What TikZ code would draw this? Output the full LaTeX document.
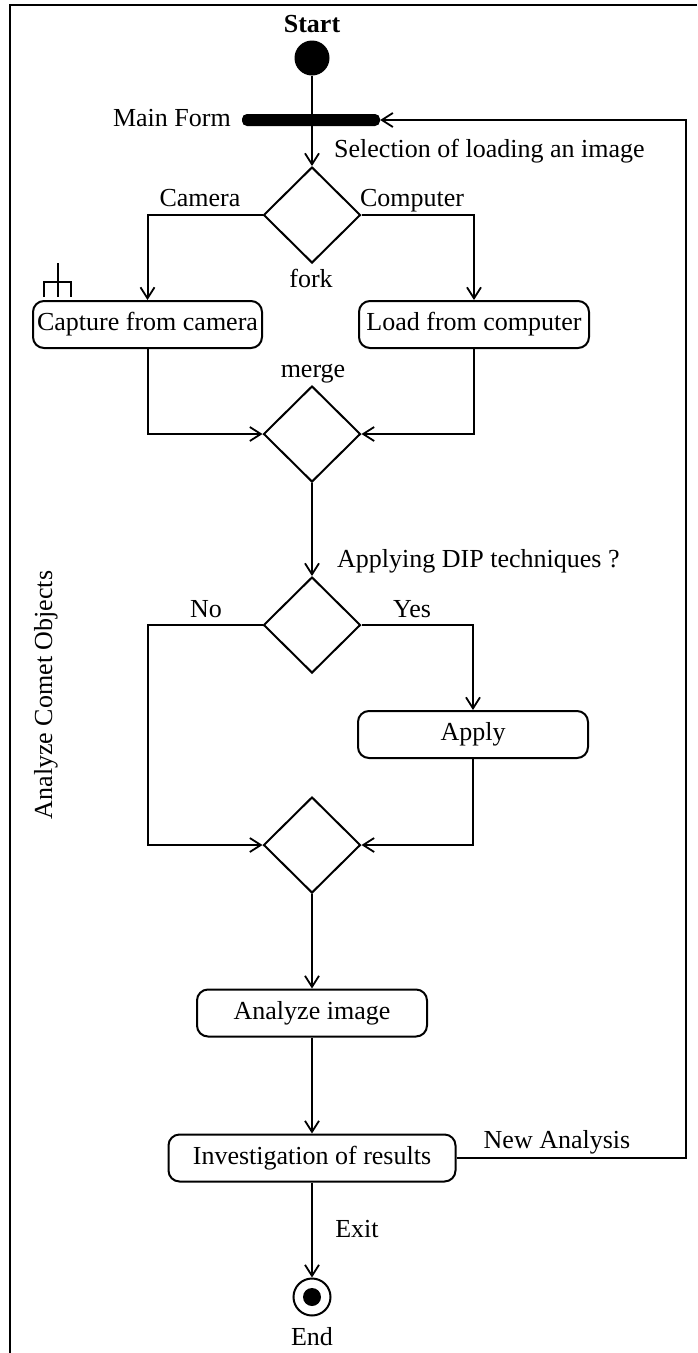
\documentclass[tikz,border=0pt]{standalone}
\usepackage{fontspec}
\setmainfont{Liberation Serif}
\usetikzlibrary{arrows.meta,shapes.geometric,calc}
\tikzset{
  txt/.style={font=\fontsize{26}{30}\selectfont, inner sep=0pt},
  ln/.style={line width=2pt},
  arr/.style={ln, -{Straight Barb[length=11pt,width=14pt,line width=1.8pt]}},
  actbox/.style={txt, draw, line width=2pt, rounded corners=11pt, minimum height=47pt, text height=18pt, text depth=6pt},
  decis/.style={draw, line width=2pt, diamond, minimum width=97pt, minimum height=96pt, inner sep=0pt, shape aspect=1},
}
\begin{document}
\begin{tikzpicture}[x=1pt,y=-1pt]
\useasboundingbox (0,0) rectangle (697,1353);
% frame
\draw[ln] (697,5) -- (10,5) -- (10,1353);
\node[txt, rotate=90, anchor=base] (lane) at (52,695) {Analyze Comet Objects};

% nodes
\node[txt, anchor=base, font=\fontsize{26}{30}\selectfont\bfseries] (startlbl) at (312,32) {Start};
\node[circle, fill=black, minimum size=35pt, inner sep=0pt] (start) at (312,58) {};
\node[fill=black, rounded corners=5pt, minimum width=138pt, minimum height=12pt, inner sep=0pt] (bar) at (311,120) {};
\node[txt, anchor=base east] (mainlbl) at (231,126) {Main Form};
\node[decis] (fork) at (312,215) {};
\node[txt, anchor=base] (forklbl) at (311,287) {fork};
\node[actbox, minimum width=229pt] (cap) at (147.5,324.5) {Capture from camera};
\node[actbox, minimum width=230pt] (load) at (474,324.5) {Load from computer};
\node[txt, anchor=base] (mergelbl) at (313,377) {merge};
\node[decis] (merge) at (312,434) {};
\node[decis] (dec) at (312,625) {};
\node[actbox, minimum width=230pt] (apply) at (473,734.5) {Apply};
\node[decis] (m2) at (312,845) {};
\node[actbox, minimum width=230pt] (analyze) at (312,1013) {Analyze image};
\node[actbox, minimum width=287pt] (invest) at (312,1158) {Investigation of results};
\node[circle, draw, line width=2pt, minimum size=37pt, inner sep=0pt] (end) at (312,1297) {};
\node[circle, fill=black, minimum size=18pt, inner sep=0pt] (enddot) at (end.center) {};
\node[txt, anchor=base] (endlbl) at (312,1345) {End};
\coordinate (fbk) at (686,120);

% edge labels
\node[txt, anchor=base west] (sel) at (334,157) {Selection of loading an image};
\node[txt, anchor=base] (camlbl) at (200,206) {Camera};
\node[txt, anchor=base] (complbl) at (412,206) {Computer};
\node[txt, anchor=base west] (diplbl) at (337,567) {Applying DIP techniques ?};
\node[txt, anchor=base] (nolbl) at (206,617) {No};
\node[txt, anchor=base] (yeslbl) at (412,617) {Yes};
\node[txt, anchor=base] (newlbl) at (557,1148) {New Analysis};
\node[txt, anchor=base] (exitlbl) at (357,1237) {Exit};

% rake symbol on the capture action
\draw[line width=1.5pt] (58,263) -- (58,297);
\draw[line width=1.5pt] (44,297) -- (44,282) -- (71,282) -- (71,297);

% connectors
\draw[ln] (start) -- (start |- bar);
\draw[arr] (fork.north |- bar) -- (fork.north);
\draw[arr] (fork.west) -| (cap.north);
\draw[arr] (fork.east) -| (load.north);
\draw[arr] (cap.south) |- (merge.west);
\draw[arr] (load.south) |- (merge.east);
\draw[arr] (merge.south) -- (dec.north);
\draw[arr] (dec.west) -| (cap.south |- m2.west) -- (m2.west);
\draw[arr] (dec.east) -| (apply.north);
\draw[arr] (apply.south) |- (m2.east);
\draw[arr] (m2.south) -- (analyze.north);
\draw[arr] (analyze.south) -- (invest.north);
\draw[arr] (invest.south) -- (end.north);
\draw[arr] (invest.east) -| (fbk) -- (bar.east);
\end{tikzpicture}
\end{document}
